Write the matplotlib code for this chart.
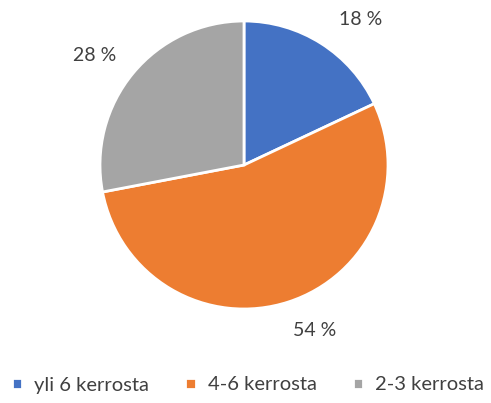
import matplotlib.pyplot as plt

plt.rcParams['font.family'] = ['Lato', 'DejaVu Sans']

categories = ['yli 6 kerrosta', '4-6 kerrosta', '2-3 kerrosta']
shares = [18, 54, 28]
colors = ['#4472C4', '#ED7D31', '#A5A5A5']
# label positions in pie units (Excel-style best fit)
label_pos = [(0.81, 1.01), (0.49, -1.15), (-1.04, 0.76)]

fig = plt.figure(figsize=(4.91, 4.03), dpi=100)
ax = fig.add_axes([100 / 491, 94 / 403, 288 / 491, 288 / 403])

wedges, _ = ax.pie(shares, colors=colors, startangle=90, counterclock=False,
                   radius=1, wedgeprops=dict(edgecolor='white', linewidth=2))
for val, (x, y) in zip(shares, label_pos):
    ax.text(x, y, f'{val} %', ha='center', va='center', fontsize=14, color='#404040')
ax.set_xlim(-1, 1)
ax.set_ylim(-1, 1)
ax.set_aspect('equal')
ax.axis('off')

fig.legend(wedges, categories, loc='center', bbox_to_anchor=(0.505, 1 - 385 / 403),
           ncol=3, frameon=False, fontsize=14.5, handlelength=0.5, handleheight=0.5,
           handletextpad=0.6, columnspacing=1.8, labelcolor='#404040')

fig.savefig('out.png', dpi=100)
